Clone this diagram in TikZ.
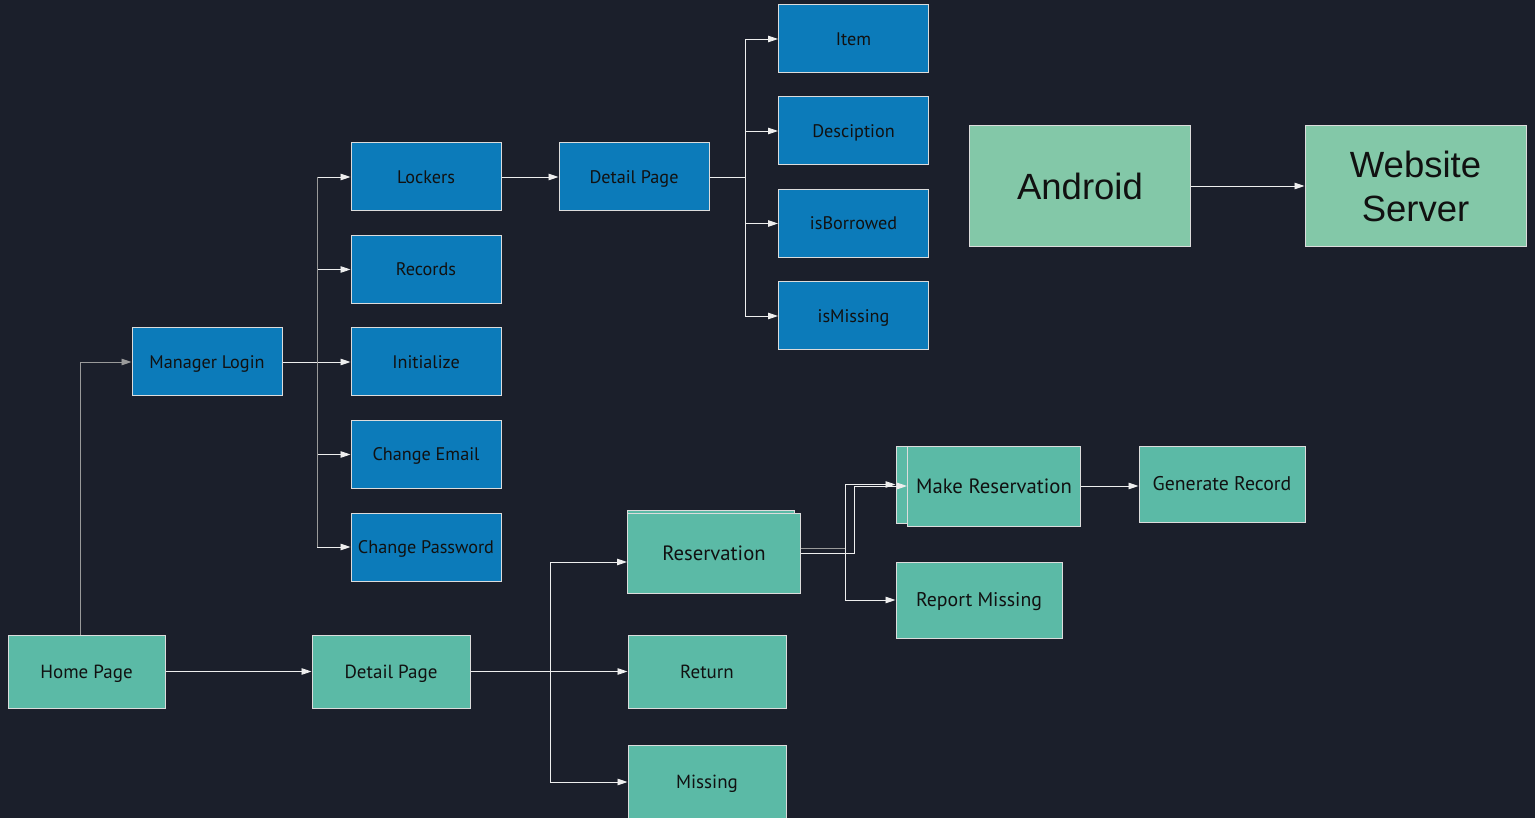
\documentclass[tikz,border=0pt]{standalone}
\usepackage{fontspec}
\setmainfont{PT Sans}
\newfontfamily\arialish{Liberation Sans}
\usetikzlibrary{arrows.meta}
\definecolor{bg}{HTML}{1B1F2B}
\definecolor{blueb}{HTML}{0C7BBA}
\definecolor{tealb}{HTML}{5BBAA6}
\definecolor{greenb}{HTML}{83C8A8}
\definecolor{edge}{HTML}{DCDCDC}
\definecolor{wire}{HTML}{EEEEEE}
\definecolor{wiredim}{HTML}{9A9A9A}
\definecolor{ink}{HTML}{111111}
\begin{document}
\begin{tikzpicture}[x=1pt,y=-1pt,
  box/.style={rectangle, draw=edge, line width=1pt, inner sep=0pt, text=ink, text depth=0pt},
  bluebox/.style={box, fill=blueb, minimum width=150pt, minimum height=68pt,
    font=\fontsize{18.2}{22}\selectfont, text height=12.6pt},
  tealbox/.style={box, fill=tealb, minimum width=158pt, minimum height=73pt,
    font=\fontsize{19}{23}\selectfont, text height=13.2pt},
  tealbig/.style={font=\fontsize{20.7}{25}\selectfont, text height=14.2pt},
  tealmid/.style={font=\fontsize{19.8}{24}\selectfont, text height=13.7pt},
  bigbox/.style={box, fill=greenb, minimum width=221pt, minimum height=121pt,
    align=center, font=\arialish\fontsize{36.5}{44}\selectfont},
  link/.style={draw=wire, line width=0.9pt},
  dimlink/.style={draw=wiredim, line width=0.9pt},
  tip/.style={-{Triangle[length=10pt,width=6.5pt]}}
]
\useasboundingbox (0,0) rectangle (1535,818);
\fill[bg] (0,0) rectangle (1535,818);

% manager side (blue)
\node[bluebox] (item)    at (853.5,39)    {Item};
\node[bluebox] (desc)    at (853.5,131)   {Desciption};
\node[bluebox] (isb)     at (853.5,223.5) {isBorrowed};
\node[bluebox] (ism)     at (853.5,316)   {isMissing};
\node[bluebox] (dpb)     at (634,177)     {Detail Page};
\node[bluebox] (lockers) at (426,177)     {Lockers};
\node[bluebox] (records) at (426,269.5)   {Records};
\node[bluebox] (init)    at (426,362)     {Initialize};
\node[bluebox] (email)   at (426,454.5)   {Change Email};
\node[bluebox] (pass)    at (426,547)     {Change Password};
\node[bluebox] (ml)      at (207,362)     {Manager Login};

% user side (teal)
\node[tealbox, minimum width=157pt] (home) at (86.5,671.5) {Home Page};
\node[tealbox] (dpt)  at (391,671.5) {Detail Page};
\node[tealbox, minimum width=167pt, minimum height=76pt] (resB) at (710.5,548) {};
\node[tealbox, tealbig, minimum width=173pt, minimum height=80pt] (res) at (714,553) {Reservation};
\node[tealbox] (ret)  at (707,671.5) {Return};
\node[tealbox] (miss) at (707,782)   {Missing};
\node[tealbox, minimum width=104pt, minimum height=77pt] (mrB) at (948,484.5) {};
\node[tealbox, tealbig, minimum width=173pt, minimum height=80pt] (mr) at (994,486) {Make Reservation};
\node[tealbox, tealmid, minimum width=166pt, minimum height=76pt] (rm)  at (979,600)  {Report Missing};
\node[tealbox, tealmid, minimum width=166pt, minimum height=76pt] (gen) at (1222,484) {Generate Record};

% system overview
\node[bigbox] (android) at (1080,186)   {Android};
\node[bigbox] (server)  at (1415.5,186) {Website\\Server};

% trunk points
\coordinate (mt) at (317,362);
\coordinate (dt) at (745,177);
\coordinate (ut) at (550,671.5);

% connectors
\draw[dimlink, tip] ([xshift=-6.5pt]home.north) |- (ml.west);
\draw[link] (ml.east) -- (mt);
\foreach \n in {lockers,records,init,email,pass}
  \draw[link, tip] (mt) |- (\n.west);
\draw[dimlink] (mt |- lockers.west) -- (mt |- pass.west);

\draw[link, tip] (lockers.east) -- (dpb.west);
\draw[link] (dpb.east) -- (dt);
\foreach \n in {item,desc,isb,ism}
  \draw[link, tip] (dt) |- (\n.west);

\draw[link, tip] (home.east) -- (dpt.west);
\draw[link, tip] (dpt.east) -- (ret.west);
\draw[link, tip] (ut) |- ([yshift=-9pt]res.west);
\draw[link, tip] (ut) |- (miss.west);

\draw[dimlink] (res.east |- resB.east) -- ++(44,0) coordinate (rt);
\draw[link, tip] (rt) |- (mrB.west);
\draw[link, tip] (rt) |- (rm.west);
\draw[link, tip] (res.east) -- ++(53,0) |- (mr.west);

\draw[link, tip] (mr.east) -- (mr.east -| gen.west);
\draw[link, tip] (android.east) -- (server.west);
\end{tikzpicture}
\end{document}
